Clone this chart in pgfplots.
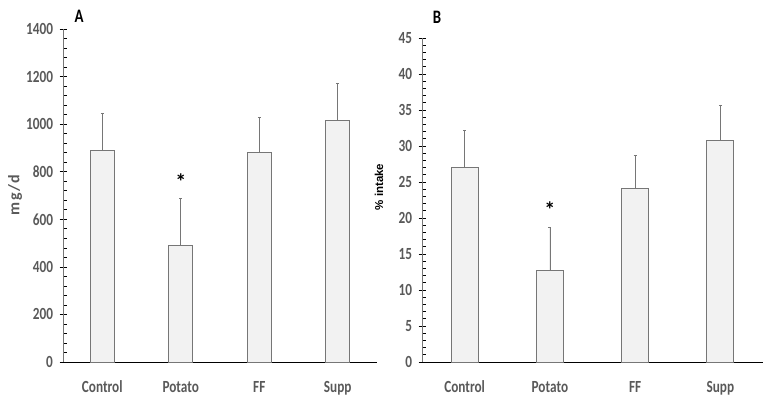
\documentclass[border=0pt]{standalone}
\usepackage{pgfplots}
\pgfplotsset{compat=1.18}
\usepackage{fontspec}
\setmainfont{Carlito}
\newfontfamily\tickfont[FakeStretch=0.78]{Carlito}
\newfontfamily\labfont[LetterSpace=8]{Carlito}
\newfontfamily\arialfont{Liberation Sans}
\definecolor{txtgray}{HTML}{595959}
\definecolor{barfill}{HTML}{F2F2F2}
\definecolor{baredge}{HTML}{767676}

\pgfplotstableread{
x val err
0 889 157
1 491 198
2 879 150
3 1015 155
}\dataA
\pgfplotstableread{
x val err
0 27.0 5.2
1 12.7 6.05
2 24.1 4.6
3 30.8 4.9
}\dataB

\pgfplotsset{
  panel/.style={
    scale only axis,
    ybar, bar shift=0pt,
    axis lines*=left,
    x axis line style={black, line width=0.9pt},
    y axis line style={baredge, line width=0.8pt},
    xmin=-0.5, xmax=3.5, ymin=0,
    xtick=data,
    xticklabels={Control,Potato,FF,Supp},
    xtick style={draw=none},
    ytick pos=left,
    tick align=center,
    major tick length=7pt,
    minor tick length=3.5pt,
    major tick style={black, line width=0.6pt},
    minor y tick style={black, line width=0.6pt, xshift=1.75pt},
    minor y tick num=4,
    /pgf/number format/assume math mode=true,
    /pgf/number format/1000 sep={},
    ticklabel style={font=\fontsize{17}{18}\selectfont\tickfont\bfseries, text=txtgray},
    xticklabel style={yshift=-12pt},
    yticklabel style={xshift=-3pt},
    clip=false,
  },
  bars/.style={
    fill=barfill, draw=baredge, line width=0.9pt,
    error bars/.cd, y dir=plus, y explicit,
    error bar style={baredge, line width=0.6pt},
    error mark options={rotate=90, mark size=1.5pt, baredge, line width=0.6pt},
  },
}

\begin{document}
\begin{tikzpicture}[x=1pt,y=1pt]
\path[use as bounding box] (0,0) rectangle (771,403);

\begin{axis}[panel, at={(63pt,41pt)}, width=314pt, height=333pt,
  ymax=1400, ytick={0,200,...,1400}, bar width=24pt]
\addplot[bars] table[x=x, y=val, y error=err] {\dataA};
\node[font=\fontsize{22}{22}\selectfont\bfseries] at (axis cs:1,760) {*};
\end{axis}

\begin{axis}[panel, at={(422pt,41pt)}, width=341pt, height=324pt,
  ymax=45, ytick={0,5,...,45}, bar width=27pt]
\addplot[bars] table[x=x, y=val, y error=err] {\dataB};
\node[font=\fontsize{22}{22}\selectfont\bfseries] at (axis cs:1,21.1) {*};
\end{axis}

\node[rotate=90, text=txtgray, font=\fontsize{16}{16}\selectfont\labfont\bfseries] at (15,208) {mg/d};
\node[rotate=90, font=\fontsize{11.5}{12}\selectfont\arialfont\bfseries] at (379,216) {\% intake};
\node[font=\fontsize{19}{19}\selectfont\tickfont\bfseries] at (79,387) {A};
\node[font=\fontsize{19}{19}\selectfont\tickfont\bfseries] at (437,386) {B};
\end{tikzpicture}
\end{document}
